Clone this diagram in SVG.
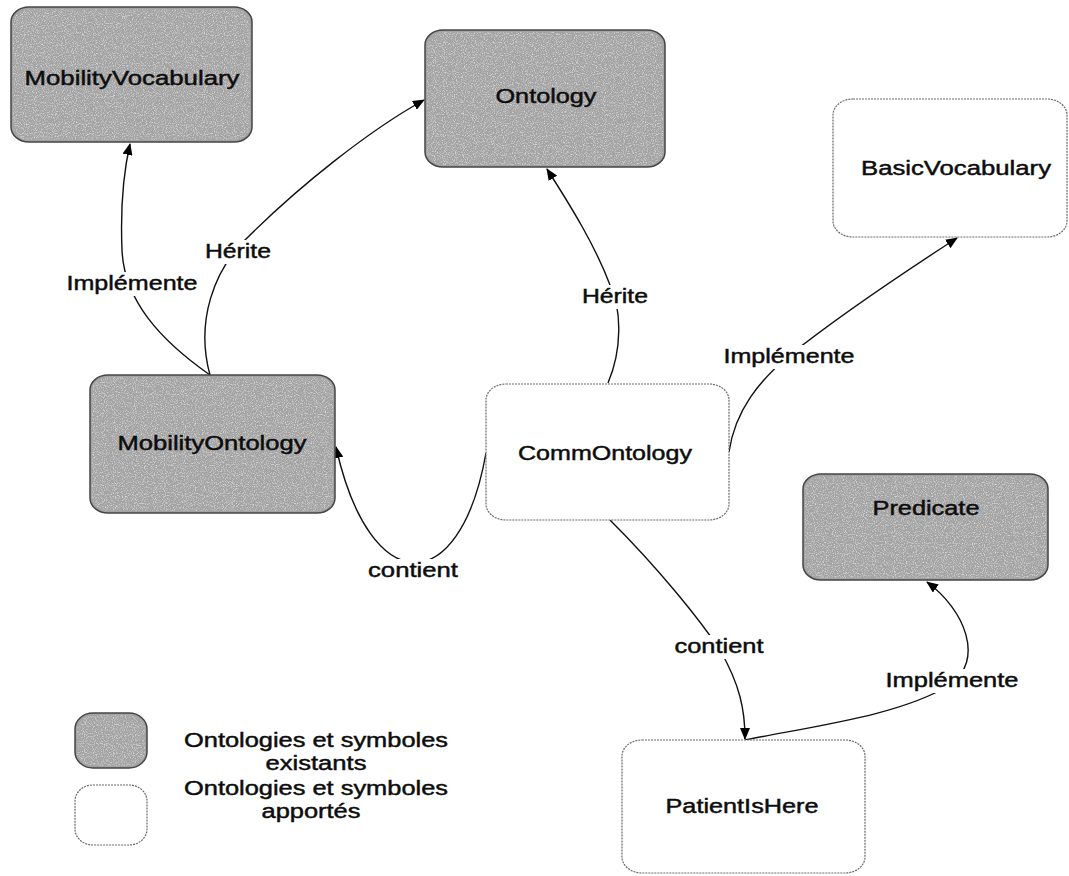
<svg xmlns="http://www.w3.org/2000/svg" width="1069" height="876" viewBox="0 0 1069 876">
  <style>
    .existing { fill: #a3a3a3; stroke: #454545; stroke-width: 1.5; }
    .grain { fill: #a3a3a3; filter: url(#grain); }
    .added { fill: #ffffff; stroke: #6a6a6a; stroke-width: 1.2; stroke-dasharray: 2 1; }
    .txt { font-family: "Liberation Sans", Arial, sans-serif; font-size: 20px; fill: #0d0d0d; stroke: #0d0d0d; stroke-width: 0.45px; text-anchor: middle; }
    .edge { fill: none; stroke: #111; stroke-width: 1.4; marker-end: url(#arrow); }
    .gap { fill: #ffffff; }
  </style>
  <defs>
    <marker id="arrow" viewBox="0 0 12 10" refX="11" refY="5" markerWidth="12" markerHeight="10" markerUnits="userSpaceOnUse" orient="auto">
      <path d="M0,0 L12,5 L0,10 Z" fill="#000"/>
    </marker>
    <!-- speckled halftone texture for the grey boxes -->
    <filter id="grain" x="0" y="0" width="100%" height="100%">
      <feTurbulence type="fractalNoise" baseFrequency="0.9" numOctaves="2" seed="3" result="noise"/>
      <feColorMatrix in="noise" type="matrix" values="0 0 0 0 0.93  0 0 0 0 0.93  0 0 0 0 0.93  0 0 0 1.6 -0.75" result="specks"/>
      <feComposite in="specks" in2="SourceGraphic" operator="in" result="clipped"/>
      <feMerge>
        <feMergeNode in="SourceGraphic"/>
        <feMergeNode in="clipped"/>
      </feMerge>
    </filter>
  </defs>

  <rect width="1069" height="876" fill="#ffffff"/>

  <!-- connectors -->
  <g id="connectors">
    <path class="edge" d="M210,375 C 160,340 124,300 122,250 C 120,200 124,170 130,144"/>
    <path class="edge" d="M210,375 C 195,320 215,270 245,240 C 300,185 370,130 424,100"/>
    <path class="edge" d="M608,383 C 622,350 622,310 610,285 C 595,245 570,205 547,169"/>
    <path class="edge" d="M729,452 C 735,410 760,380 790,355 C 840,315 900,275 957,238"/>
    <path class="edge" d="M486,453 C 460,600 370,600 336,447"/>
    <path class="edge" d="M610,520 C 660,570 700,620 720,650 C 740,685 745,710 745,739"/>
    <path class="edge" d="M745,740 C 820,725 900,715 950,685 C 985,660 965,610 927,582"/>

    <!-- label backgrounds break the lines -->
    <rect class="gap" x="64" y="272" width="137" height="24"/>
    <rect class="gap" x="202" y="240" width="72" height="24"/>
    <rect class="gap" x="579" y="285" width="72" height="24"/>
    <rect class="gap" x="721" y="345" width="137" height="24"/>
    <rect class="gap" x="365" y="559" width="96" height="24"/>
    <rect class="gap" x="672" y="635" width="95" height="24"/>
    <rect class="gap" x="883" y="669" width="139" height="24"/>

    <text class="txt" x="132" y="290" textLength="131" lengthAdjust="spacingAndGlyphs">Implémente</text>
    <text class="txt" x="238" y="258" textLength="66" lengthAdjust="spacingAndGlyphs">Hérite</text>
    <text class="txt" x="615" y="303" textLength="66" lengthAdjust="spacingAndGlyphs">Hérite</text>
    <text class="txt" x="789" y="363" textLength="131" lengthAdjust="spacingAndGlyphs">Implémente</text>
    <text class="txt" x="413" y="577" textLength="90" lengthAdjust="spacingAndGlyphs">contient</text>
    <text class="txt" x="719" y="653" textLength="89" lengthAdjust="spacingAndGlyphs">contient</text>
    <text class="txt" x="952" y="687" textLength="133" lengthAdjust="spacingAndGlyphs">Implémente</text>
  </g>

  <!-- nodes -->
  <g id="MobilityVocabulary">
    <rect class="existing" x="11" y="7" width="241" height="135" rx="18" ry="15"/>
    <rect class="grain" x="13" y="9" width="237" height="131" rx="17" ry="14"/>
    <text class="txt" x="132" y="85" textLength="215" lengthAdjust="spacingAndGlyphs">MobilityVocabulary</text>
  </g>

  <g id="Ontology">
    <rect class="existing" x="425" y="30" width="240" height="137" rx="18" ry="15"/>
    <rect class="grain" x="427" y="32" width="236" height="133" rx="17" ry="14"/>
    <text class="txt" x="546" y="103" textLength="101" lengthAdjust="spacingAndGlyphs">Ontology</text>
  </g>

  <g id="BasicVocabulary">
    <rect class="added" x="833" y="99" width="234" height="138" rx="20" ry="16"/>
    <text class="txt" x="956" y="175" textLength="190" lengthAdjust="spacingAndGlyphs">BasicVocabulary</text>
  </g>

  <g id="MobilityOntology">
    <rect class="existing" x="90" y="375" width="245" height="138" rx="18" ry="15"/>
    <rect class="grain" x="92" y="377" width="241" height="134" rx="17" ry="14"/>
    <text class="txt" x="212" y="450" textLength="189" lengthAdjust="spacingAndGlyphs">MobilityOntology</text>
  </g>

  <g id="CommOntology">
    <rect class="added" x="486" y="384" width="243" height="136" rx="20" ry="16"/>
    <text class="txt" x="605" y="460" textLength="174" lengthAdjust="spacingAndGlyphs">CommOntology</text>
  </g>

  <g id="Predicate">
    <rect class="existing" x="803" y="474" width="245" height="106" rx="18" ry="15"/>
    <rect class="grain" x="805" y="476" width="241" height="102" rx="17" ry="14"/>
    <text class="txt" x="926" y="515" textLength="107" lengthAdjust="spacingAndGlyphs">Predicate</text>
  </g>

  <g id="PatientIsHere">
    <rect class="added" x="622" y="740" width="243" height="133" rx="20" ry="16"/>
    <text class="txt" x="742" y="813" textLength="153" lengthAdjust="spacingAndGlyphs">PatientIsHere</text>
  </g>

  <!-- legend -->
  <g id="legend">
    <rect class="existing" x="75" y="713" width="72" height="55" rx="18" ry="16"/>
    <rect class="grain" x="77" y="715" width="68" height="51" rx="17" ry="15"/>
    <rect class="added" x="75" y="785" width="72" height="60" rx="18" ry="16"/>
    <text class="txt" x="316" y="747" textLength="264" lengthAdjust="spacingAndGlyphs">Ontologies et symboles</text>
    <text class="txt" x="316" y="770" textLength="101" lengthAdjust="spacingAndGlyphs">existants</text>
    <text class="txt" x="316" y="795" textLength="264" lengthAdjust="spacingAndGlyphs">Ontologies et symboles</text>
    <text class="txt" x="311" y="818" textLength="99" lengthAdjust="spacingAndGlyphs">apportés</text>
  </g>
</svg>
